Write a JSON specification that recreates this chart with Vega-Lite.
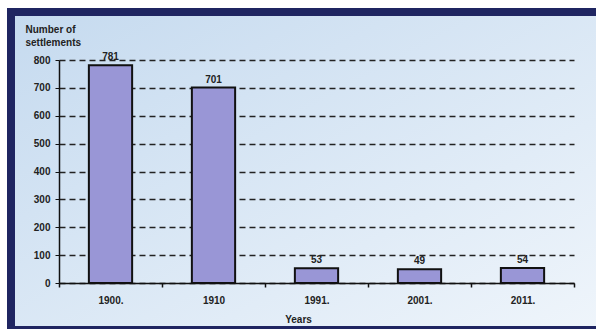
{
  "$schema": "https://vega.github.io/schema/vega-lite/v6.json",
  "width": 589,
  "height": 318,
  "autosize": {"type": "none"},
  "padding": {"left": 11, "top": 12, "right": -4, "bottom": -1},
  "background": "#ffffff",
  "view": {
    "fill": {"gradient": "linear", "x1": 0, "y1": 0, "x2": 1, "y2": 1, "stops": [{"offset": 0, "color": "#c5daef"}, {"offset": 1, "color": "#eff5fb"}]},
    "stroke": "#1f2561",
    "strokeWidth": 8
  },
  "data": {
    "values": [
      {"year": "1900.", "settlements": 781},
      {"year": "1910", "settlements": 701},
      {"year": "1991.", "settlements": 53},
      {"year": "2001.", "settlements": 49},
      {"year": "2011.", "settlements": 54}
    ]
  },
  "encoding": {
    "x": {
      "field": "year", "type": "nominal", "sort": null,
      "scale": {"range": [48, 563], "paddingInner": 0, "paddingOuter": 0},
      "axis": {
        "title": "Years", "orient": "bottom", "offset": -47, "tickBand": "extent", "labelAngle": 0,
        "labelFont": "Liberation Sans", "labelFontSize": 10, "labelFontWeight": "bold", "labelColor": "#222222",
        "labelPadding": 8, "tickSize": 4, "tickColor": "#111111", "tickWidth": 1.5,
        "domainColor": "#111111", "domainWidth": 1.5, "grid": false,
        "titleX": 287, "titleY": 36, "titleBaseline": "middle", "titleAlign": "center",
        "titleFont": "Liberation Sans", "titleFontSize": 10, "titleFontWeight": "bold", "titleColor": "#222222"
      }
    },
    "y": {
      "field": "settlements", "type": "quantitative",
      "scale": {"domain": [0, 800], "range": [271, 48], "nice": false, "zero": true},
      "axis": {
        "title": ["Number of", "settlements"], "offset": -48,
        "values": [0, 100, 200, 300, 400, 500, 600, 700, 800],
        "grid": true, "gridDash": [6, 4], "gridColor": "#222222", "gridWidth": 1.4, "gridOpacity": 1,
        "tickSize": 4, "tickColor": "#111111", "labelPadding": 5,
        "labelFont": "Liberation Sans", "labelFontSize": 10, "labelFontWeight": "bold", "labelColor": "#222222",
        "domainColor": "#111111", "domainWidth": 1.5,
        "titleAngle": 0, "titleAlign": "left", "titleBaseline": "top", "titleX": -34, "titleY": 12,
        "titleFont": "Liberation Sans", "titleFontSize": 10, "titleFontWeight": "bold", "titleColor": "#222222", "titleLineHeight": 13
      }
    }
  },
  "layer": [
    {"mark": {"type": "bar", "width": {"band": 0.42}, "fill": "#9996d6", "stroke": "#111111", "strokeWidth": 2}},
    {"mark": {"type": "text", "baseline": "bottom", "dy": -3, "font": "Liberation Sans", "fontSize": 10, "fontWeight": "bold", "color": "#222222"},
     "encoding": {"text": {"field": "settlements", "type": "quantitative"}}}
  ]
}
